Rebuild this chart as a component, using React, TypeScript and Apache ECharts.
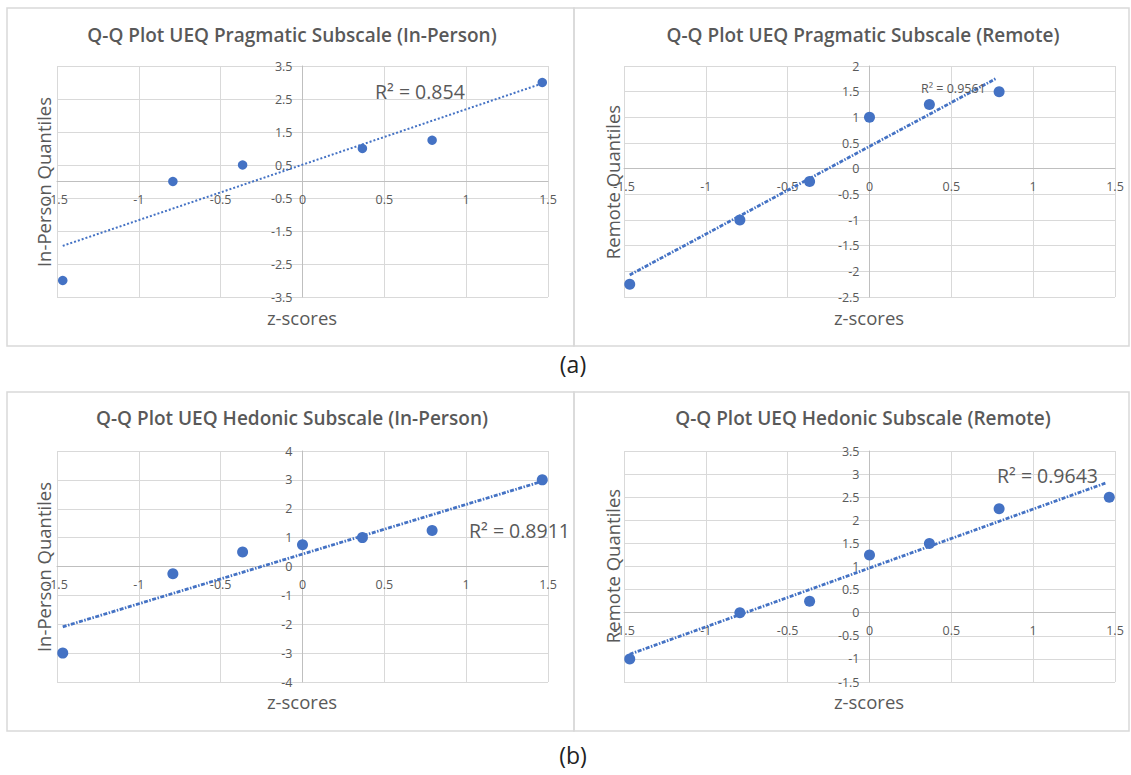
import React, { useEffect, useRef } from "react";
import * as echarts from "echarts";

// ---- data ----
const pragInPersonZ = [-1.465, -0.792, -0.366, 0.366, 0.792, 1.465];
const pragInPersonQ = [-3, 0, 0.5, 1, 1.25, 3];
const pragInPersonTrendZ = [-1.465, 1.465];
const pragInPersonTrendQ = [-1.95, 2.97];

const pragRemoteZ = [-1.465, -0.792, -0.366, 0, 0.366, 0.792];
const pragRemoteQ = [-2.25, -1, -0.25, 1, 1.25, 1.5];
const pragRemoteTrendZ = [-1.465, 0.77];
const pragRemoteTrendQ = [-2.07, 1.75];

const hedInPersonZ = [-1.465, -0.792, -0.366, 0, 0.366, 0.792, 1.465];
const hedInPersonQ = [-3, -0.25, 0.5, 0.75, 1, 1.25, 3];
const hedInPersonTrendZ = [-1.465, 1.465];
const hedInPersonTrendQ = [-2.09, 2.95];

const hedRemoteZ = [-1.465, -0.792, -0.366, 0, 0.366, 0.792, 1.465];
const hedRemoteQ = [-1, 0, 0.25, 1.25, 1.5, 2.25, 2.5];
const hedRemoteTrendZ = [-1.465, 1.445];
const hedRemoteTrendQ = [-0.9, 2.81];

const titles = [
  "Q-Q Plot UEQ Pragmatic Subscale (In-Person)",
  "Q-Q Plot UEQ Pragmatic Subscale (Remote)",
  "Q-Q Plot UEQ Hedonic Subscale (In-Person)",
  "Q-Q Plot UEQ Hedonic Subscale (Remote)",
];
const yNames = ["In-Person Quantiles", "Remote Quantiles", "In-Person Quantiles", "Remote Quantiles"];
const xName = "z-scores";
const rSquared = ["R² = 0.854", "R² = 0.9561", "R² = 0.8911", "R² = 0.9643"];
const yMins = [-3.5, -2.5, -4, -1.5];
const yMaxs = [3.5, 2, 4, 3.5];
const yIntervals = [1, 0.5, 1, 0.5];
const xMin = -1.5;
const xMax = 1.5;
const xInterval = 0.5;

const FONT = "'Open Sans', 'Noto Sans', sans-serif";
const BLUE = "#4472C4";
const TEXT = "#595959";

const pair = (xs: number[], ys: number[]) => xs.map((x, i) => [x, ys[i]]);

export default function App() {
  const ref = useRef<HTMLDivElement>(null);
  useEffect(() => {
    document.body.style.margin = "0";
    if (!ref.current) return;
    const chart = echarts.init(ref.current, null, { renderer: "svg" });

    const grids = [
      { left: 57, top: 66, width: 491, height: 231 },
      { left: 624, top: 66, width: 491, height: 231 },
      { left: 57, top: 451, width: 491, height: 231 },
      { left: 624, top: 451, width: 491, height: 231 },
    ];

    // axes cross at zero: shift each axis inward by where zero falls on the other axis
    const xAxes = grids.map((g, i) => ({
      type: "value",
      gridIndex: i,
      position: "bottom",
      min: xMin,
      max: xMax,
      interval: xInterval,
      offset: -((0 - yMins[i]) / (yMaxs[i] - yMins[i])) * g.height,
      axisLine: { onZero: false, lineStyle: { color: "#BFBFBF", width: 1 } },
      axisTick: { show: false },
      axisLabel: { color: TEXT, fontSize: 12.5, fontFamily: FONT, margin: 11 },
      splitLine: { show: true, lineStyle: { color: "#D9D9D9", width: 1 } },
    }));
    const yAxes = grids.map((g, i) => ({
      type: "value",
      gridIndex: i,
      position: "left",
      min: yMins[i],
      max: yMaxs[i],
      interval: yIntervals[i],
      offset: -((0 - xMin) / (xMax - xMin)) * g.width,
      axisLine: { onZero: false, lineStyle: { color: "#BFBFBF", width: 1 } },
      axisTick: { show: false },
      axisLabel: { color: TEXT, fontSize: 12.5, fontFamily: FONT, margin: 10 },
      splitLine: { show: true, lineStyle: { color: "#D9D9D9", width: 1 } },
    }));

    const pts = [
      pair(pragInPersonZ, pragInPersonQ),
      pair(pragRemoteZ, pragRemoteQ),
      pair(hedInPersonZ, hedInPersonQ),
      pair(hedRemoteZ, hedRemoteQ),
    ];
    const trends = [
      pair(pragInPersonTrendZ, pragInPersonTrendQ),
      pair(pragRemoteTrendZ, pragRemoteTrendQ),
      pair(hedInPersonTrendZ, hedInPersonTrendQ),
      pair(hedRemoteTrendZ, hedRemoteTrendQ),
    ];

    const series: any[] = [];
    for (let i = 0; i < 4; i++) {
      series.push({
        type: "line",
        xAxisIndex: i,
        yAxisIndex: i,
        data: trends[i],
        showSymbol: false,
        symbol: "none",
        silent: true,
        lineStyle:
          i === 0
            ? { color: BLUE, width: 2, type: [2, 2] }
            : { color: BLUE, width: 2.8, type: [4, 1.5, 1.5, 1.5] },
        z: 2,
      });
      series.push({
        type: "scatter",
        xAxisIndex: i,
        yAxisIndex: i,
        data: pts[i],
        symbolSize: i === 0 ? 9.5 : 11,
        itemStyle: { color: BLUE, opacity: 1 },
        z: 3,
      });
    }

    const borderStyle = { stroke: "#D9D9D9", fill: "none", lineWidth: 1.5 };
    const titlePos = [
      [292, 35],
      [863, 35],
      [292, 418],
      [863, 418],
    ];
    const yNamePos = [
      [43, 182],
      [612, 182],
      [43, 567],
      [612, 566],
    ];
    const xNamePos = [
      [302, 317],
      [869, 317],
      [302, 701],
      [869, 701],
    ];
    const rPos = [
      [375, 91, 19.5],
      [921, 88, 12.5],
      [469, 530, 19.5],
      [997, 475, 19.5],
    ];

    const graphic: any[] = [
      { type: "rect", shape: { x: 7, y: 8, width: 567, height: 338 }, style: borderStyle, silent: true },
      { type: "rect", shape: { x: 574, y: 8, width: 555, height: 338 }, style: borderStyle, silent: true },
      { type: "rect", shape: { x: 7, y: 392, width: 567, height: 339 }, style: borderStyle, silent: true },
      { type: "rect", shape: { x: 574, y: 392, width: 555, height: 339 }, style: borderStyle, silent: true },
    ];
    for (let i = 0; i < 4; i++) {
      graphic.push({
        type: "text",
        x: titlePos[i][0],
        y: titlePos[i][1],
        style: {
          text: titles[i],
          fill: TEXT,
          font: `600 19px ${FONT}`,
          textAlign: "center",
          textVerticalAlign: "middle",
        },
      });
      graphic.push({
        type: "text",
        x: yNamePos[i][0],
        y: yNamePos[i][1],
        rotation: Math.PI / 2,
        style: {
          text: yNames[i],
          fill: TEXT,
          font: `18.5px ${FONT}`,
          textAlign: "center",
          textVerticalAlign: "middle",
        },
      });
      graphic.push({
        type: "text",
        x: xNamePos[i][0],
        y: xNamePos[i][1],
        style: {
          text: xName,
          fill: TEXT,
          font: `18.5px ${FONT}`,
          textAlign: "center",
          textVerticalAlign: "middle",
        },
      });
      graphic.push({
        type: "text",
        x: rPos[i][0],
        y: rPos[i][1],
        z: 10,
        style: {
          text: rSquared[i],
          fill: TEXT,
          font: `${rPos[i][2]}px ${FONT}`,
          textAlign: "left",
          textVerticalAlign: "middle",
        },
      });
    }
    graphic.push({
      type: "text",
      x: 573,
      y: 364,
      style: { text: "(a)", fill: "#222", font: `23px ${FONT}`, textAlign: "center", textVerticalAlign: "middle" },
    });
    graphic.push({
      type: "text",
      x: 573,
      y: 755,
      style: { text: "(b)", fill: "#222", font: `23px ${FONT}`, textAlign: "center", textVerticalAlign: "middle" },
    });

    chart.setOption({
      animation: false,
      backgroundColor: "#ffffff",
      grid: grids,
      xAxis: xAxes,
      yAxis: yAxes,
      series,
      graphic,
    });
    return () => chart.dispose();
  }, []);
  return <div ref={ref} style={{ width: 1131, height: 775 }} />;
}
